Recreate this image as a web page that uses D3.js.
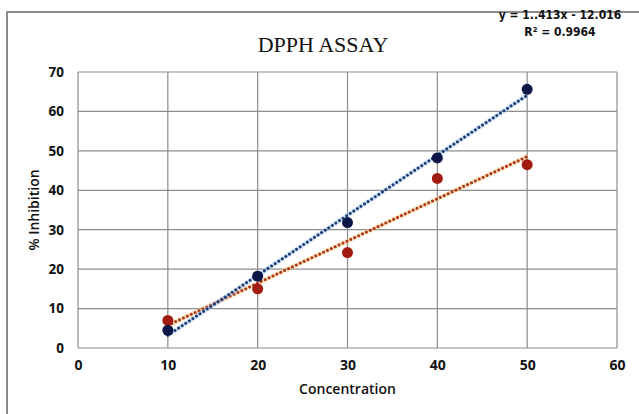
<!DOCTYPE html>
<html>
<head>
<meta charset="utf-8">
<script src="https://cdn.jsdelivr.net/npm/d3@7"></script>
<style>
  body { margin: 0; background: #fff; }
  text { font-family: "Open Sans", sans-serif; }
</style>
</head>
<body>
<svg width="639" height="414"></svg>
<script>
// concentrations and % inhibition readings
var concentrations = [10, 20, 30, 40, 50];
var seriesA = [4.5, 18.2, 31.8, 48.2, 65.6];   // navy
var seriesB = [7.0, 15.0, 24.2, 43.0, 46.5];   // red
var xTicks = [0, 10, 20, 30, 40, 50, 60];
var yTicks = [0, 10, 20, 30, 40, 50, 60, 70];
var equationText = ["y = 1..413x - 12.016", "R\u00b2 = 0.9964"];

var svg = d3.select("svg"),
    margin = {top: 72, right: 22, bottom: 66, left: 78},
    width = +svg.attr("width") - margin.left - margin.right,
    height = +svg.attr("height") - margin.top - margin.bottom;

// outer chart frame (only top/left show in the photo)
svg.append("path")
    .attr("d", "M7,420 L7,12 L650,12")
    .attr("fill", "none")
    .attr("stroke", "#8a8a8a")
    .attr("stroke-width", 2);

var g = svg.append("g").attr("transform", "translate(" + margin.left + "," + margin.top + ")");

var x = d3.scaleLinear().domain([0, 60]).range([0, width]);
var y = d3.scaleLinear().domain([0, 70]).range([height, 0]);

// grid
g.append("g").selectAll("line").data(yTicks).enter().append("line")
    .attr("x1", 0).attr("x2", width)
    .attr("y1", function(d) { return y(d); }).attr("y2", function(d) { return y(d); })
    .attr("stroke", "#8c8c8c").attr("stroke-width", 1.2);
g.append("g").selectAll("line").data(xTicks).enter().append("line")
    .attr("y1", 0).attr("y2", height)
    .attr("x1", function(d) { return x(d); }).attr("x2", function(d) { return x(d); })
    .attr("stroke", "#8c8c8c").attr("stroke-width", 1.2);

// axes (labels only)
g.append("g")
    .attr("transform", "translate(0," + height + ")")
    .call(d3.axisBottom(x).tickValues(xTicks).tickSize(0).tickPadding(12))
    .call(function(a) { a.select(".domain").remove(); })
    .selectAll("text")
    .attr("font-size", 14).attr("font-weight", "bold").attr("fill", "#111")
    .style("font-family", "'Open Sans', sans-serif");

g.append("g")
    .call(d3.axisLeft(y).tickValues(yTicks).tickSize(0).tickPadding(14))
    .call(function(a) { a.select(".domain").remove(); })
    .selectAll("text")
    .attr("font-size", 13.5).attr("font-weight", "bold").attr("fill", "#111")
    .style("font-family", "'Open Sans', sans-serif");

// trendlines from least squares fit
function fit(xs, ys) {
  var mx = d3.mean(xs), my = d3.mean(ys);
  var sxy = d3.sum(xs, function(v, i) { return (v - mx) * (ys[i] - my); });
  var sxx = d3.sum(xs, function(v) { return (v - mx) * (v - mx); });
  var b = sxy / sxx;
  return {slope: b, intercept: my - b * mx};
}

var line = d3.line()
    .x(function(d) { return x(d[0]); })
    .y(function(d) { return y(d[1]); });

function drawSeries(vals, dotColor, trendColor, glow) {
  var f = fit(concentrations, vals);
  var ends = d3.extent(concentrations).map(function(c) { return [c, f.slope * c + f.intercept]; });
  g.append("path").datum(ends)
      .attr("fill", "none").attr("stroke", glow).attr("stroke-width", 5).attr("stroke-opacity", 0.35)
      .attr("d", line);
  g.append("path").datum(ends)
      .attr("fill", "none").attr("stroke", trendColor).attr("stroke-width", 3)
      .attr("stroke-linecap", "round").attr("stroke-dasharray", "0.1 4.2")
      .attr("d", line);
  g.append("g").selectAll("circle").data(vals).enter().append("circle")
      .attr("cx", function(d, i) { return x(concentrations[i]); })
      .attr("cy", function(d) { return y(d); })
      .attr("r", 5.5)
      .attr("fill", dotColor);
}

drawSeries(seriesB, "#a31a0e", "#b23a12", "#f5c27a");
drawSeries(seriesA, "#0d1747", "#1f3f7a", "#9fc3e8");

// titles
svg.append("text")
    .attr("x", 323).attr("y", 52)
    .attr("text-anchor", "middle")
    .style("font-family", "'Liberation Serif', 'Times New Roman', serif")
    .attr("font-size", 22).attr("fill", "#111")
    .text("DPPH ASSAY");

svg.append("g").selectAll("text").data(equationText).enter().append("text")
    .attr("x", 560).attr("y", function(d, i) { return 19 + i * 17; })
    .attr("text-anchor", "middle")
    .style("font-family", "'DejaVu Sans Condensed', 'DejaVu Sans', sans-serif")
    .style("font-stretch", "condensed")
    .attr("font-size", 12).attr("font-weight", "bold").attr("fill", "#111")
    .text(function(d) { return d; });

svg.append("text")
    .attr("x", margin.left + width / 2).attr("y", 394)
    .attr("text-anchor", "middle")
    .attr("font-size", 14).attr("font-weight", "600").attr("fill", "#111")
    .text("Concentration");

svg.append("text")
    .attr("transform", "translate(39," + (margin.top + height / 2) + ") rotate(-90)")
    .attr("text-anchor", "middle")
    .attr("font-size", 14).attr("font-weight", "600").attr("fill", "#111")
    .text("% Inhibition");
</script>
</body>
</html>
